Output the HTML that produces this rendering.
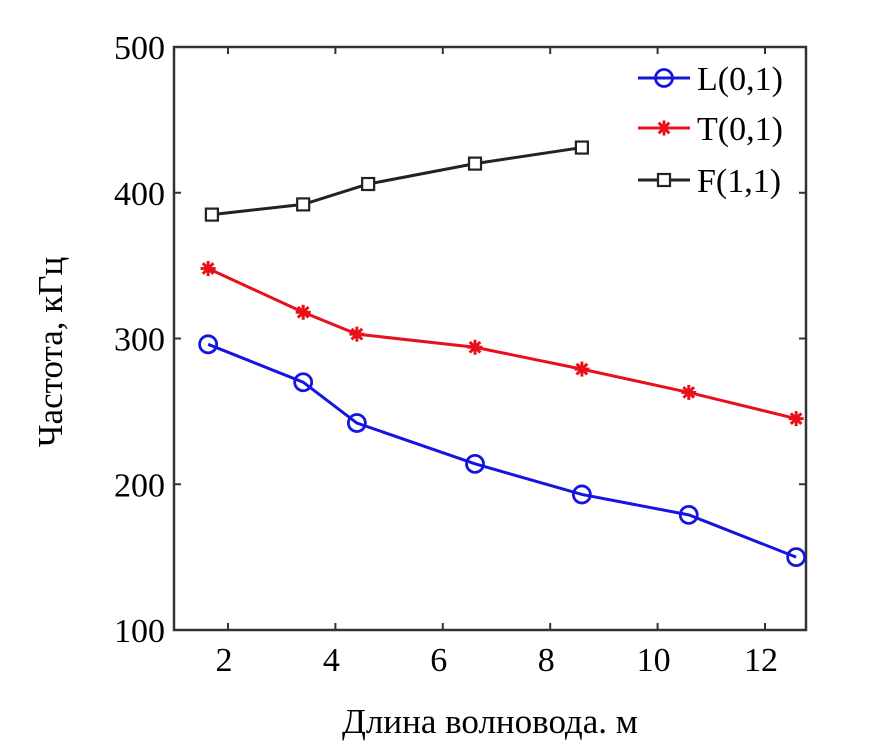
<!DOCTYPE html>
<html><head><meta charset="utf-8"><style>body{margin:0;background:#fff}svg{display:block}</style></head>
<body>
<svg id="chart" width="871" height="754" xmlns="http://www.w3.org/2000/svg" font-family="Liberation Serif, serif"></svg>
<script>
const xTicks=[2,4,6,8,10,12];
const yTicks=[100,200,300,400,500];
const xL=[1.63,3.4,4.4,6.6,8.59,10.58,12.58];
const yL=[296,270,242,214,193,179,150];
const xT=[1.63,3.4,4.4,6.6,8.59,10.58,12.58];
const yT=[348,318,303,294,279,263,245];
const xF=[1.7,3.4,4.61,6.6,8.59];
const yF=[385,392,406,420,431];
const L=174,R=806,T=47,B=630;
const X=v=>228+(v-2)*53.7;
const Y=v=>B-(v-100)*(B-T)/400;
const svg=document.getElementById('chart');
const NS='http://www.w3.org/2000/svg';
function mk(tag,attrs,parent){const e=document.createElementNS(NS,tag);for(const k in attrs)e.setAttribute(k,attrs[k]);(parent||svg).appendChild(e);return e;}
const frame=mk('rect',{x:L,y:T,width:R-L,height:B-T,fill:'none',stroke:'#333',"stroke-width":2.5});


xTicks.forEach(t=>{
  const g=mk('g',{});
  
  
  mk('line',{x1:X(t),x2:X(t),y1:B,y2:B-7,stroke:'#333','stroke-width':2},g);
  mk('line',{x1:X(t),x2:X(t),y1:T,y2:T+7,stroke:'#333','stroke-width':2},g);
  const tx=mk('text',{x:X(t)-4,y:B+41,'font-size':34,'text-anchor':'middle'},g);tx.textContent=t;
});
yTicks.forEach(t=>{
  const g=mk('g',{});
  
  
  mk('line',{x1:L,x2:L+7,y1:Y(t),y2:Y(t),stroke:'#333','stroke-width':2},g);
  mk('line',{x1:R,x2:R-7,y1:Y(t),y2:Y(t),stroke:'#333','stroke-width':2},g);
  const tx=mk('text',{x:L-9,y:Y(t)+12,'font-size':34,'text-anchor':'end'},g);tx.textContent=t;
});
const xt=mk('text',{x:490,y:733,'font-size':35,'text-anchor':'middle'});xt.textContent='Длина волновода. м';


const yt=mk('text',{x:0,y:0,'font-size':35,'text-anchor':'middle',transform:'translate(62,352) rotate(-90)'});yt.textContent='Частота, кГц';


function marker(g,type,cx,cy,col){
  if(type==='o')mk('circle',{cx,cy,r:8.5,fill:'none',stroke:col,'stroke-width':2.8},g);
  else if(type==='s')mk('rect',{x:cx-6,y:cy-6,width:12,height:12,fill:'#fff',stroke:col,'stroke-width':2.2},g);
  else{for(let a=0;a<180;a+=45){const r=a*Math.PI/180;mk('line',{x1:cx-7.5*Math.cos(r),y1:cy-7.5*Math.sin(r),x2:cx+7.5*Math.cos(r),y2:cy+7.5*Math.sin(r),stroke:col,'stroke-width':3},g);}}
}
function series(name,xs,ys,col,type){
  const g=mk('g',{});
  
  
  mk('polyline',{points:xs.map((x,i)=>X(x)+','+Y(ys[i])).join(' '),fill:'none',stroke:col,'stroke-width':3},g);
  xs.forEach((x,i)=>marker(g,type,X(x),Y(ys[i]),col));
}
series('L01',xL,yL,'#1515e0','o');
series('T01',xT,yT,'#e8101a','*');
series('F11',xF,yF,'#222','s');
const leg=[['L(0,1)','#1515e0','o',78],['T(0,1)','#e8101a','*',128],['F(1,1)','#222','s',180]];
leg.forEach(l=>{
  const g=mk('g',{});
  
  
  mk('line',{x1:638,x2:690,y1:l[3],y2:l[3],stroke:l[1],'stroke-width':3},g);
  marker(g,l[2],664,l[3],l[1]);
  const tx=mk('text',{x:697,y:l[3]+12,'font-size':34},g);tx.textContent=l[0];
});
</script>
</body></html>
